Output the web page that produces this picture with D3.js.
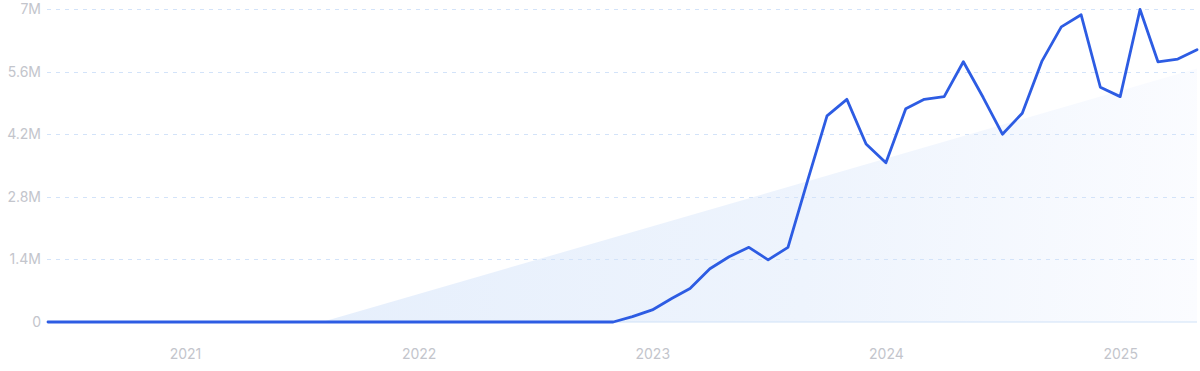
<!DOCTYPE html>
<html><head><meta charset="utf-8">
<script src="https://cdn.jsdelivr.net/npm/d3@7"></script>
<style>
html,body{margin:0;padding:0;background:#fff;}
svg{display:block;}
text{font-family:Inter,"Noto Sans",sans-serif;}
</style></head>
<body><svg id="c" width="1200" height="371"></svg>
<script>
// Monthly data, Jun 2020 .. May 2025
const startMonth = "2020-06";
const values = [
  0,0,0,0,0,0,0,            // 2020 Jun-Dec
  0,0,0,0,0,0,0,0,0,0,0,0,  // 2021
  0,0,0,0,0,0,0,0,0,0,0,    // 2022 Jan-Nov
  0.12e6,                   // 2022 Dec
  0.27e6,0.53e6,0.75e6,1.19e6,1.46e6,1.67e6,1.39e6,1.67e6,3.18e6,4.61e6,4.98e6,3.98e6, // 2023
  3.56e6,4.77e6,4.98e6,5.04e6,5.82e6,5.02e6,4.20e6,4.67e6,5.84e6,6.60e6,6.87e6,5.25e6, // 2024
  5.04e6,6.99e6,5.82e6,5.88e6,6.09e6 // 2025 Jan-May
];
const yTicks = [0,1.4e6,2.8e6,4.2e6,5.6e6,7e6];
const yTickLabels = ["0","1.4M","2.8M","4.2M","5.6M","7M"];
const xTickYears = [2021,2022,2023,2024,2025];
// trend area: zero at start date, rising to end value at last month
const trendDates = ["2021-08-03","2025-05-01"];
const trendValues = [0,5.67e6];

const parse = d3.timeParse("%Y-%m");
const t0 = parse(startMonth);
const data = values.map((v,i)=>({date:d3.timeMonth.offset(t0,i), value:v}));
const trend = trendDates.map((d,i)=>({date:d3.timeParse("%Y-%m-%d")(d), value:trendValues[i]}));

const svg = d3.select("#c");
const mL=48, mR=1197, mT=9, mB=322;
const x = d3.scaleTime().domain([data[0].date, data[data.length-1].date]).range([mL,mR]);
const y = d3.scaleLinear().domain([0,7e6]).range([mB,mT]);

const defs = svg.append("defs");
const g = defs.append("linearGradient").attr("id","fillg")
  .attr("gradientUnits","userSpaceOnUse")
  .attr("x1",x(trend[0].date)).attr("y1",y(0)-60).attr("x2",mR).attr("y2",mB);
g.append("stop").attr("offset","0").attr("stop-color","#e6effc");
g.append("stop").attr("offset","0.55").attr("stop-color","#eef4fd");
g.append("stop").attr("offset","1").attr("stop-color","#fbfcff");

// trend fill
svg.append("path").datum(trend)
  .attr("fill","url(#fillg)")
  .attr("d", d3.area().x(d=>x(d.date)).y0(y(0)).y1(d=>y(d.value)));

// grid
const grid = svg.append("g");
grid.selectAll("line").data(yTicks.filter(v=>v>0)).join("line")
  .attr("x1",mL-1).attr("x2",mR)
  .attr("y1",d=>Math.round(y(d))+0.5).attr("y2",d=>Math.round(y(d))+0.5)
  .attr("stroke","#d3e3f9").attr("stroke-width",1).attr("stroke-dasharray","4,5");
svg.append("line").attr("x1",mL).attr("x2",mR).attr("y1",y(0)).attr("y2",y(0))
  .attr("stroke","#cfe2f8").attr("stroke-width",1.2);

// y labels
const ya = d3.axisLeft(y).tickValues(yTicks).tickFormat((d,i)=>yTickLabels[i]).tickSize(0).tickPadding(7);
const yg = svg.append("g").attr("transform",`translate(${mL},0)`).call(ya);
yg.select(".domain").remove();
yg.selectAll("text").attr("fill","#c3c5cc").style("font-size","14px");

// x labels
const xa = d3.axisBottom(x).tickValues(xTickYears.map(yv=>new Date(yv,0,1))).tickFormat(d3.timeFormat("%Y")).tickSize(0).tickPadding(27);
const xg = svg.append("g").attr("transform",`translate(0,${mB})`).call(xa);
xg.select(".domain").remove();
xg.selectAll("text").attr("fill","#c3c5cc").style("font-size","14px");

// line
svg.append("path").datum(data)
  .attr("fill","none").attr("stroke","#2d5ce3").attr("stroke-width",2.8)
  .attr("stroke-linejoin","round").attr("stroke-linecap","round")
  .attr("d", d3.line().x(d=>x(d.date)).y(d=>y(d.value)));
</script></body></html>
